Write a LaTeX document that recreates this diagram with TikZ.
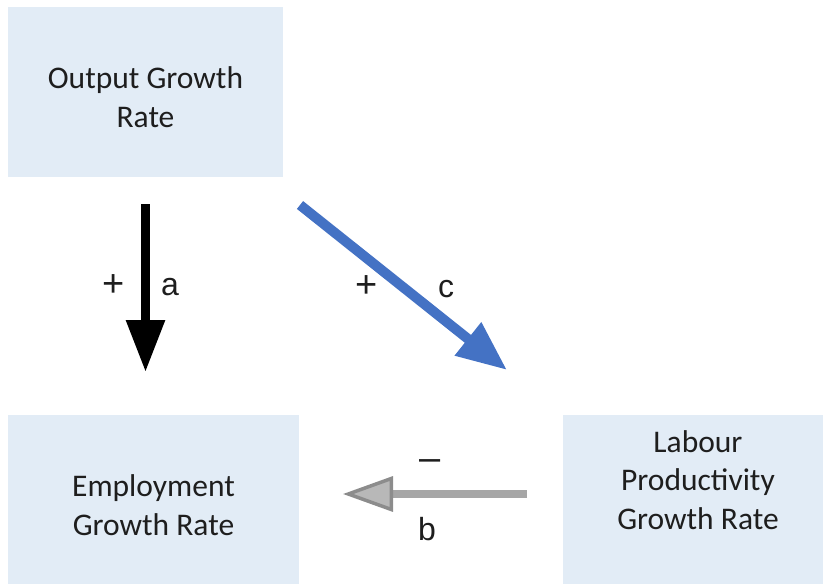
\documentclass[tikz,border=0pt]{standalone}
\usepackage{fontspec}
\setmainfont{Carlito}
\newfontfamily\labelfont{Liberation Sans}
\usetikzlibrary{arrows.meta}
\definecolor{boxfill}{HTML}{E2ECF6}
\definecolor{linkblue}{HTML}{4472C4}
\definecolor{linkgray}{HTML}{A6A6A6}
\definecolor{headgray}{HTML}{8C8C8C}
\definecolor{headfill}{HTML}{B8B8B8}
\definecolor{ink}{HTML}{1E1E1E}
\tikzset{
  varbox/.style={fill=boxfill, draw=none, inner sep=0pt, minimum width=#1},
  boxtext/.style={text=ink, align=center, inner sep=0pt,
    font=\fontsize{31.5}{38.5}\selectfont},
  signtext/.style={text=ink, inner sep=0pt, font=\labelfont\fontsize{38}{38}\selectfont},
  lettertext/.style={text=ink, inner sep=0pt, font=\labelfont\fontsize{32}{32}\selectfont},
}
\begin{document}
\begin{tikzpicture}[x=1pt, y=-1pt]
  \useasboundingbox (0,0) rectangle (823,584);

  % the three variables
  \node[varbox=275pt, minimum height=170pt] (out) at (145.5,92) {};
  \node[varbox=291pt, minimum height=169pt] (emp) at (153.5,499.5) {};
  \node[varbox=260pt, minimum height=169pt] (lab) at (693,499.5) {};

  \node[boxtext] (outtxt) at (145.5,97) {Output Growth\\Rate};
  \node[boxtext] (emptxt) at (153.5,505) {Employment\\Growth Rate};
  \node[boxtext] (labtxt) at (698,480) {Labour\\Productivity\\Growth Rate};

  % end points of the causal links
  \coordinate (a0) at (145.5,204);
  \coordinate (a1) at (145.5,372);
  \coordinate (c0) at (300,205);
  \coordinate (c1) at (507,370);
  \coordinate (b0) at (527,494);
  \coordinate (b1) at (343,494);

  % a: output -> employment
  \draw[line width=9pt, black, -{Triangle[length=52pt, width=37pt]}] (a0) -- (a1);
  % c: output -> productivity
  \draw[line width=10pt, linkblue, -{Triangle[length=50pt, width=40pt]}] (c0) -- (c1);
  % b: productivity -> employment
  \draw[line width=8pt, linkgray,
        -{Triangle[length=50pt, width=35pt, line width=3.5pt, color=headgray, fill=headfill]}]
        (b0) -- (b1);

  % signs and link names
  \node[signtext] (pa) at (114,286) {+};
  \node[lettertext] (la) at (170,287) {a};
  \node[signtext] (pc) at (367,287) {+};
  \node[lettertext] (lc) at (446,289) {c};
  \node[signtext] (mb) at (430,465) {\textendash};
  \node[lettertext] (lb) at (427,529) {b};
\end{tikzpicture}
\end{document}
